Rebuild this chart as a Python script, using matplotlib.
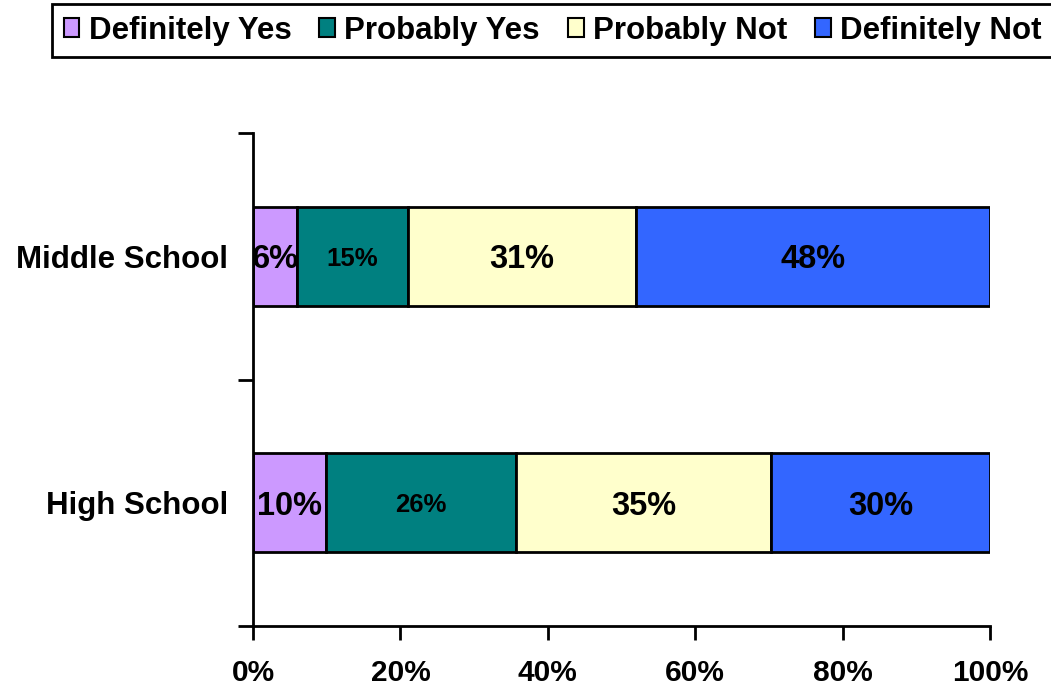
import matplotlib.pyplot as plt
from matplotlib.patches import Patch

# data
schools = ['High School', 'Middle School']
seriesNames = ['Definitely Yes', 'Probably Yes', 'Probably Not', 'Definitely Not']
seriesColors = ['#CC99FF', '#008080', '#FFFFCC', '#3366FF']
definitelyYes = [9.9, 6.0]
probablyYes = [25.8, 15.0]
probablyNot = [34.6, 31.0]
definitelyNot = [29.7, 48.0]
xTickLabels = ['0%', '20%', '40%', '60%', '80%', '100%']

plt.rcParams['font.family'] = ['Liberation Sans', 'DejaVu Sans']
plt.rcParams['font.weight'] = 'bold'

fig = plt.figure(figsize=(10.51, 6.92), dpi=100)
ax = fig.add_axes([253 / 1051, 66 / 692, 737 / 1051, 493 / 692])

series = [definitelyYes, probablyYes, probablyNot, definitelyNot]
yPos = [0.5, 1.5]
left = [0.0, 0.0]
for i, values in enumerate(series):
    ax.barh(yPos, values, height=0.4, left=left, color=seriesColors[i],
            edgecolor='black', linewidth=2)
    for j, v in enumerate(values):
        size = 18.5 if i == 1 else 23.5
        ax.text(left[j] + v / 2, yPos[j], '{:.0f}%'.format(v),
                ha='center', va='center_baseline', fontsize=size, fontweight='bold')
    left = [left[k] + values[k] for k in range(2)]

ax.set_xlim(0, 100)
ax.set_ylim(0, 2)
ax.set_xticks([0, 20, 40, 60, 80, 100])
ax.set_xticklabels(xTickLabels, fontsize=21.5, fontweight='bold')
ax.set_yticks([0, 1, 2])
ax.set_yticklabels([])
ax.tick_params(axis='both', direction='out', length=10, width=2, pad=14)
ax.tick_params(axis='y', length=11)
for j, name in enumerate(schools):
    ax.text(-3.4, yPos[j], name, ha='right', va='center_baseline',
            fontsize=22.5, fontweight='bold', transform=ax.transData)

ax.spines['top'].set_visible(False)
ax.spines['right'].set_visible(False)
ax.spines['left'].set_linewidth(2)
ax.spines['bottom'].set_linewidth(2)

handles = [Patch(facecolor=c, edgecolor='black', linewidth=1.5) for c in seriesColors]
leg = fig.legend(handles, seriesNames, loc='upper left', bbox_to_anchor=(52 / 1051, 1 - 4 / 692),
                 ncol=4, fontsize=22.5, frameon=True, fancybox=False,
                 handlelength=0.5, handleheight=0.6, handletextpad=0.3,
                 columnspacing=0.9, borderpad=0.37, borderaxespad=0)
leg.get_frame().set_edgecolor('black')
leg.get_frame().set_linewidth(2)
leg.get_frame().set_alpha(1)

fig.savefig('out.png', dpi=100)
